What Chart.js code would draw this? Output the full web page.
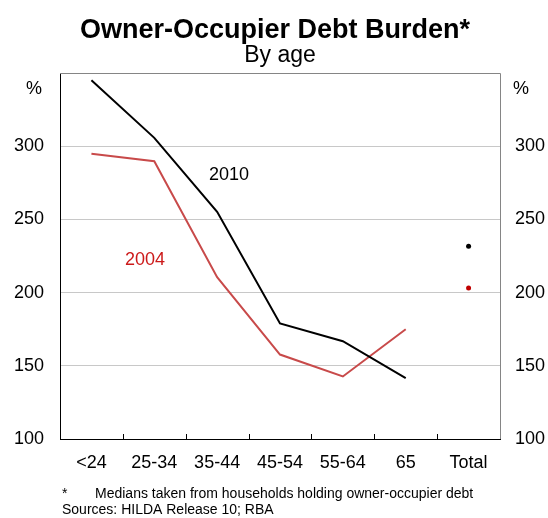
<!DOCTYPE html>
<html>
<head>
<meta charset="utf-8">
<script src="https://cdn.jsdelivr.net/npm/chart.js@4"></script>
<style>
  html, body { margin: 0; padding: 0; background: #fff; }
  #wrap { width: 548px; height: 518px; position: relative; }
</style>
</head>
<body>
<div id="wrap"><canvas id="c" width="548" height="518"></canvas></div>
<script>
// Age groups along the horizontal axis
const ageGroups = ['<24', '25-34', '35-44', '45-54', '55-64', '65', 'Total'];
// Median debt-to-income ratios, per cent
const debt2010 = [345, 305.7, 255.2, 178.9, 166.8, 141.6, null];
const debt2004 = [294.9, 289.7, 210.5, 157.7, 142.7, 175, null];
const total2010 = [null, null, null, null, null, null, 231.7];
const total2004 = [null, null, null, null, null, null, 203.2];
const yTicks = [100, 150, 200, 250, 300];

const FONT = '"Liberation Sans", Arial, sans-serif';

const decor = {
  id: 'decor',
  afterDraw(chart) {
    const ctx = chart.ctx;
    const a = chart.chartArea;
    const xs = chart.scales.x;
    ctx.save();
    // top and right frame
    ctx.strokeStyle = '#858585';
    ctx.lineWidth = 1;
    ctx.beginPath();
    ctx.moveTo(a.left, a.top + 0.5);
    ctx.lineTo(a.right + 0.5, a.top + 0.5);
    ctx.lineTo(a.right + 0.5, a.bottom);
    ctx.stroke();
    // category separators on the bottom axis, pointing inward
    ctx.strokeStyle = '#000';
    ctx.beginPath();
    for (let i = 1; i < ageGroups.length; i++) {
      const x = Math.round((xs.getPixelForValue(i - 1) + xs.getPixelForValue(i)) / 2) + 0.5;
      ctx.moveTo(x, a.bottom);
      ctx.lineTo(x, a.bottom - 5);
    }
    ctx.stroke();
    // titles
    ctx.fillStyle = '#000';
    ctx.textAlign = 'center';
    ctx.textBaseline = 'alphabetic';
    ctx.font = 'bold 27px ' + FONT;
    ctx.fillText('Owner-Occupier Debt Burden*', 275, 38);
    ctx.font = '23px ' + FONT;
    ctx.fillText('By age', 280, 62);
    // unit labels
    ctx.font = '18px ' + FONT;
    ctx.fillText('%', 34, 94);
    ctx.fillText('%', 521, 94);
    // series labels
    ctx.textAlign = 'left';
    ctx.fillText('2010', 209, 180);
    ctx.fillStyle = '#cc1a1a';
    ctx.fillText('2004', 125, 265);
    // notes
    ctx.fillStyle = '#000';
    ctx.font = '14px ' + FONT;
    ctx.fillText('*', 62, 498);
    ctx.fillText('Medians taken from households holding owner-occupier debt', 95, 498);
    ctx.fillText('Sources: HILDA Release 10; RBA', 62, 514);
    ctx.restore();
  }
};

new Chart(document.getElementById('c'), {
  type: 'line',
  data: {
    labels: ageGroups,
    datasets: [
      { label: '2010', data: debt2010, borderColor: '#000', borderWidth: 2, pointRadius: 0, tension: 0, spanGaps: false },
      { label: '2004', data: debt2004, borderColor: '#c84a4a', borderWidth: 2, pointRadius: 0, tension: 0, spanGaps: false },
      { label: 'Total 2010', data: total2010, showLine: false, pointRadius: 2.5, pointBackgroundColor: '#000', pointBorderWidth: 0 },
      { label: 'Total 2004', data: total2004, showLine: false, pointRadius: 2.5, pointBackgroundColor: '#c00000', pointBorderWidth: 0 }
    ]
  },
  options: {
    responsive: false,
    animation: false,
    events: [],
    layout: { padding: { top: 73, left: 0, right: 0, bottom: 0 } },
    plugins: { legend: { display: false }, tooltip: { enabled: false }, title: { display: false } },
    scales: {
      x: {
        type: 'category',
        offset: true,
        grid: { display: false, drawTicks: false },
        border: { display: true, color: '#000', width: 1 },
        ticks: { color: '#000', font: { family: FONT, size: 18 }, padding: 13, maxRotation: 0, autoSkip: false },
        afterFit(s) { s.height = 79; }
      },
      y: {
        position: 'left',
        min: 100, max: 350,
        afterBuildTicks(s) { s.ticks = yTicks.concat([350]).map(v => ({ value: v })); },
        grid: {
          drawTicks: false,
          color: c => (c.tick && (c.tick.value === 100 || c.tick.value === 350)) ? 'rgba(0,0,0,0)' : '#c8c8c8',
          lineWidth: 1
        },
        border: { display: true, color: '#000', width: 1 },
        ticks: {
          color: '#000', font: { family: FONT, size: 18 }, padding: 16,
          callback: v => (v === 350 ? '' : v)
        },
        afterFit(s) { s.width = 60; }
      },
      y2: {
        position: 'right',
        min: 100, max: 350,
        afterBuildTicks(s) { s.ticks = yTicks.concat([350]).map(v => ({ value: v })); },
        grid: { display: false, drawTicks: false },
        border: { display: false },
        ticks: {
          color: '#000', font: { family: FONT, size: 18 }, padding: 15,
          callback: v => (v === 350 ? '' : v)
        },
        afterFit(s) { s.width = 48; }
      }
    }
  },
  plugins: [decor]
});
</script>
</body>
</html>
